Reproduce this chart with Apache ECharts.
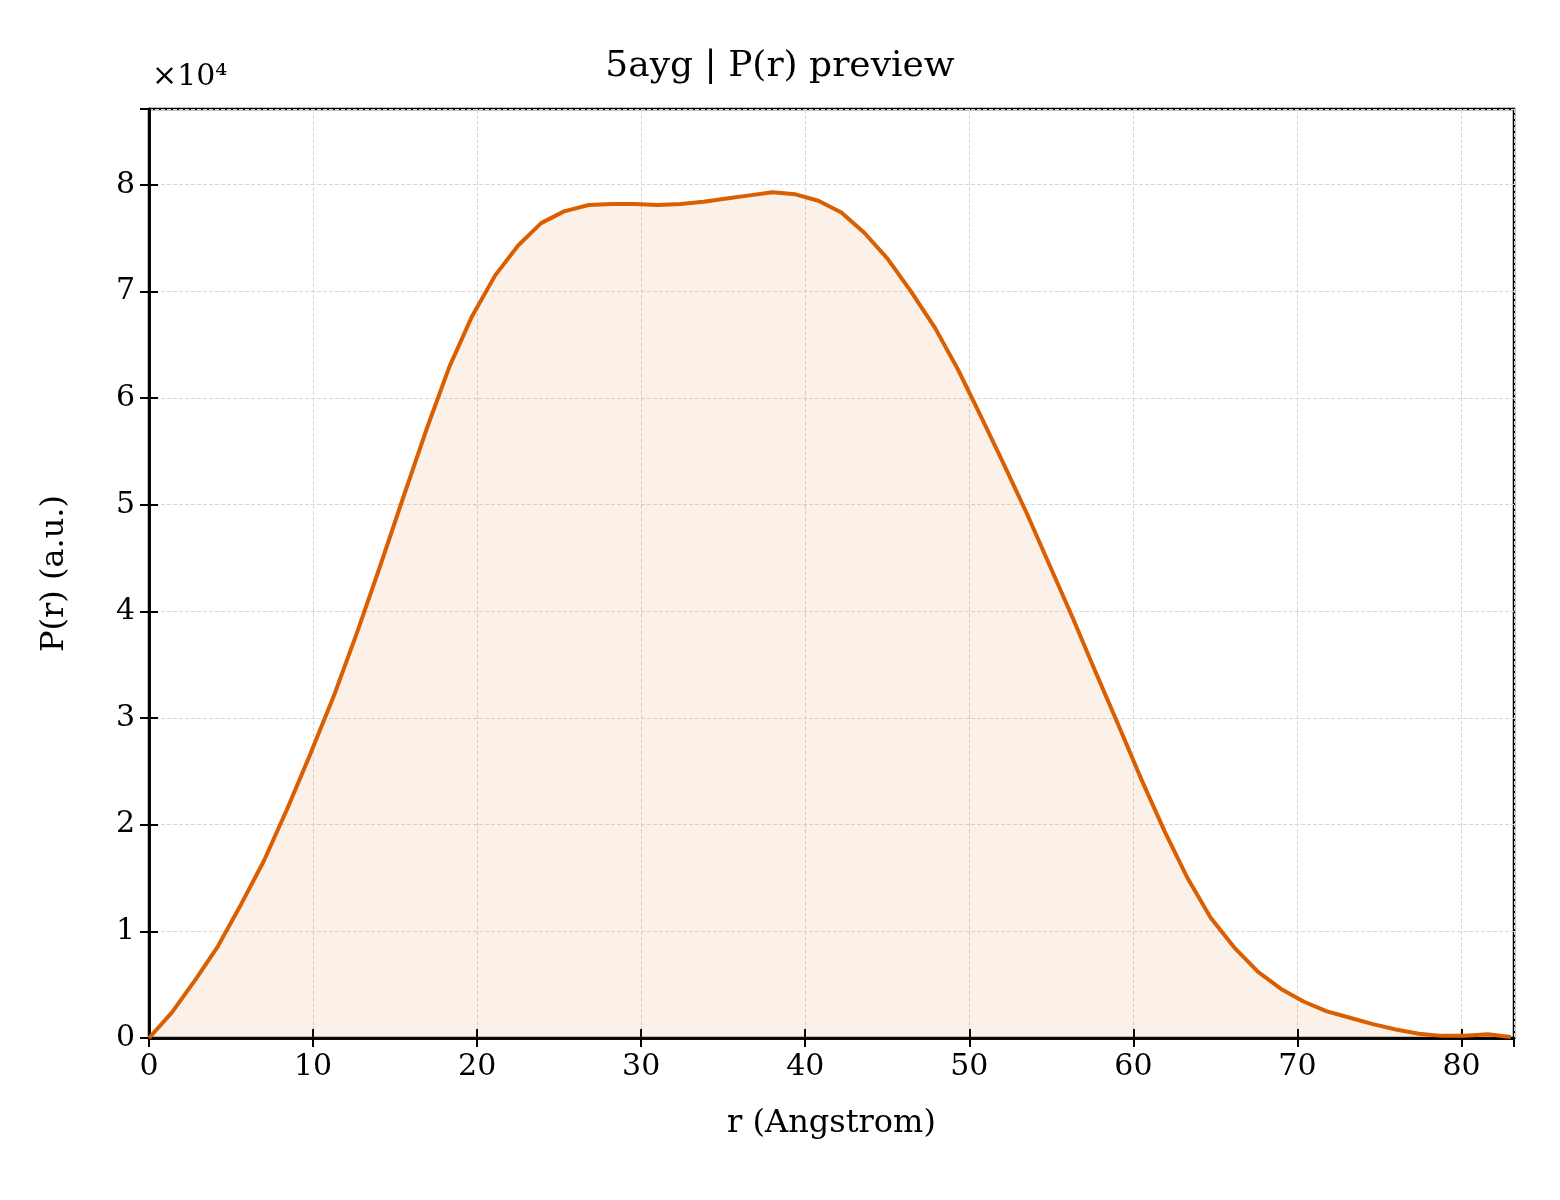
<!DOCTYPE html>
<html><head><meta charset="utf-8">
<script src="https://cdn.jsdelivr.net/npm/echarts@6/dist/echarts.min.js"></script>
<style>html,body{margin:0;padding:0;background:#fff}#c{width:1560px;height:1200px}</style>
</head><body><div id="c"></div>
<script>
const rValues = [0,1.4,2.8,4.2,5.6,7.0,8.4,9.8,11.3,12.7,14.1,15.5,16.9,18.3,19.7,21.1,22.5,23.9,25.3,26.8,28.2,29.6,31.0,32.4,33.8,35.2,36.6,38.0,39.4,40.8,42.2,43.6,45.0,46.4,47.9,49.3,50.7,52.1,53.5,54.9,56.3,57.7,59.1,60.5,61.9,63.3,64.7,66.2,67.6,69.0,70.4,71.8,73.2,74.6,76.0,77.4,78.8,80.2,81.6,83.0];
const pValues = [0,2400,5400,8600,12500,16600,21400,26500,32200,38100,44300,50700,57000,62900,67700,71500,74300,76400,77500,78100,78200,78200,78100,78200,78400,78700,79000,79300,79100,78500,77400,75500,73100,70100,66600,62700,58300,53800,49200,44300,39400,34300,29300,24200,19400,15000,11300,8400,6200,4600,3400,2500,1900,1300,800,400,200,200,350,100];
const font = 'DejaVu Serif';
const chart = echarts.init(document.getElementById('c'));
const tickStyle = {show:true,inside:true,length:9,lineStyle:{color:'#000',width:2}};
chart.setOption({
  animation:false,
  title:{text:'5ayg | P(r) preview',left:'center',top:44,textStyle:{fontFamily:font,fontWeight:'normal',fontSize:36,color:'#000'}},
  graphic:[{type:'text',left:152,top:62,style:{text:'×10⁴',font:'30px "DejaVu Serif"',fill:'#000'}}],
  grid:{left:149,right:46,top:109,bottom:162,show:true,borderColor:'#000',borderWidth:2.5,backgroundColor:'transparent'},
  xAxis:[{type:'value',min:0,max:83.2,interval:10,name:'r (Angstrom)',nameLocation:'middle',nameGap:70,
    nameTextStyle:{fontFamily:font,fontSize:32,color:'#000'},
    axisLine:{lineStyle:{color:'#000',width:2.5}},axisTick:tickStyle,
    axisLabel:{fontFamily:font,fontSize:30,color:'#000',margin:14,showMaxLabel:false},
    splitLine:{show:true,lineStyle:{color:'#d8d8d8',type:'dashed',width:1}}},
   {type:'value',position:'top',min:0,max:83.2,interval:10,axisLine:{show:true,lineStyle:{color:'#000',width:2.5}},axisTick:tickStyle,axisLabel:{show:false},splitLine:{show:false}}],
  yAxis:[{type:'value',min:0,max:87100,interval:10000,name:'P(r) (a.u.)',nameLocation:'middle',nameGap:78,
    nameTextStyle:{fontFamily:font,fontSize:32,color:'#000'},
    axisLine:{show:true,lineStyle:{color:'#000',width:2.5}},axisTick:tickStyle,
    axisLabel:{fontFamily:font,fontSize:30,color:'#000',margin:14,showMaxLabel:false,formatter:v=>String(Math.round(v/10000))},
    splitLine:{show:true,lineStyle:{color:'#d8d8d8',type:'dashed',width:1}}},
   {type:'value',position:'right',min:0,max:87100,interval:10000,axisLine:{show:true,lineStyle:{color:'#000',width:2.5}},axisTick:tickStyle,axisLabel:{show:false},splitLine:{show:false}}],
  series:[{type:'line',data:rValues.map((r,i)=>[r,pValues[i]]),showSymbol:false,
    lineStyle:{color:'#d95f02',width:4},itemStyle:{color:'#d95f02'},
    areaStyle:{color:'rgba(217,95,2,0.13)'}}]
});
</script></body></html>
